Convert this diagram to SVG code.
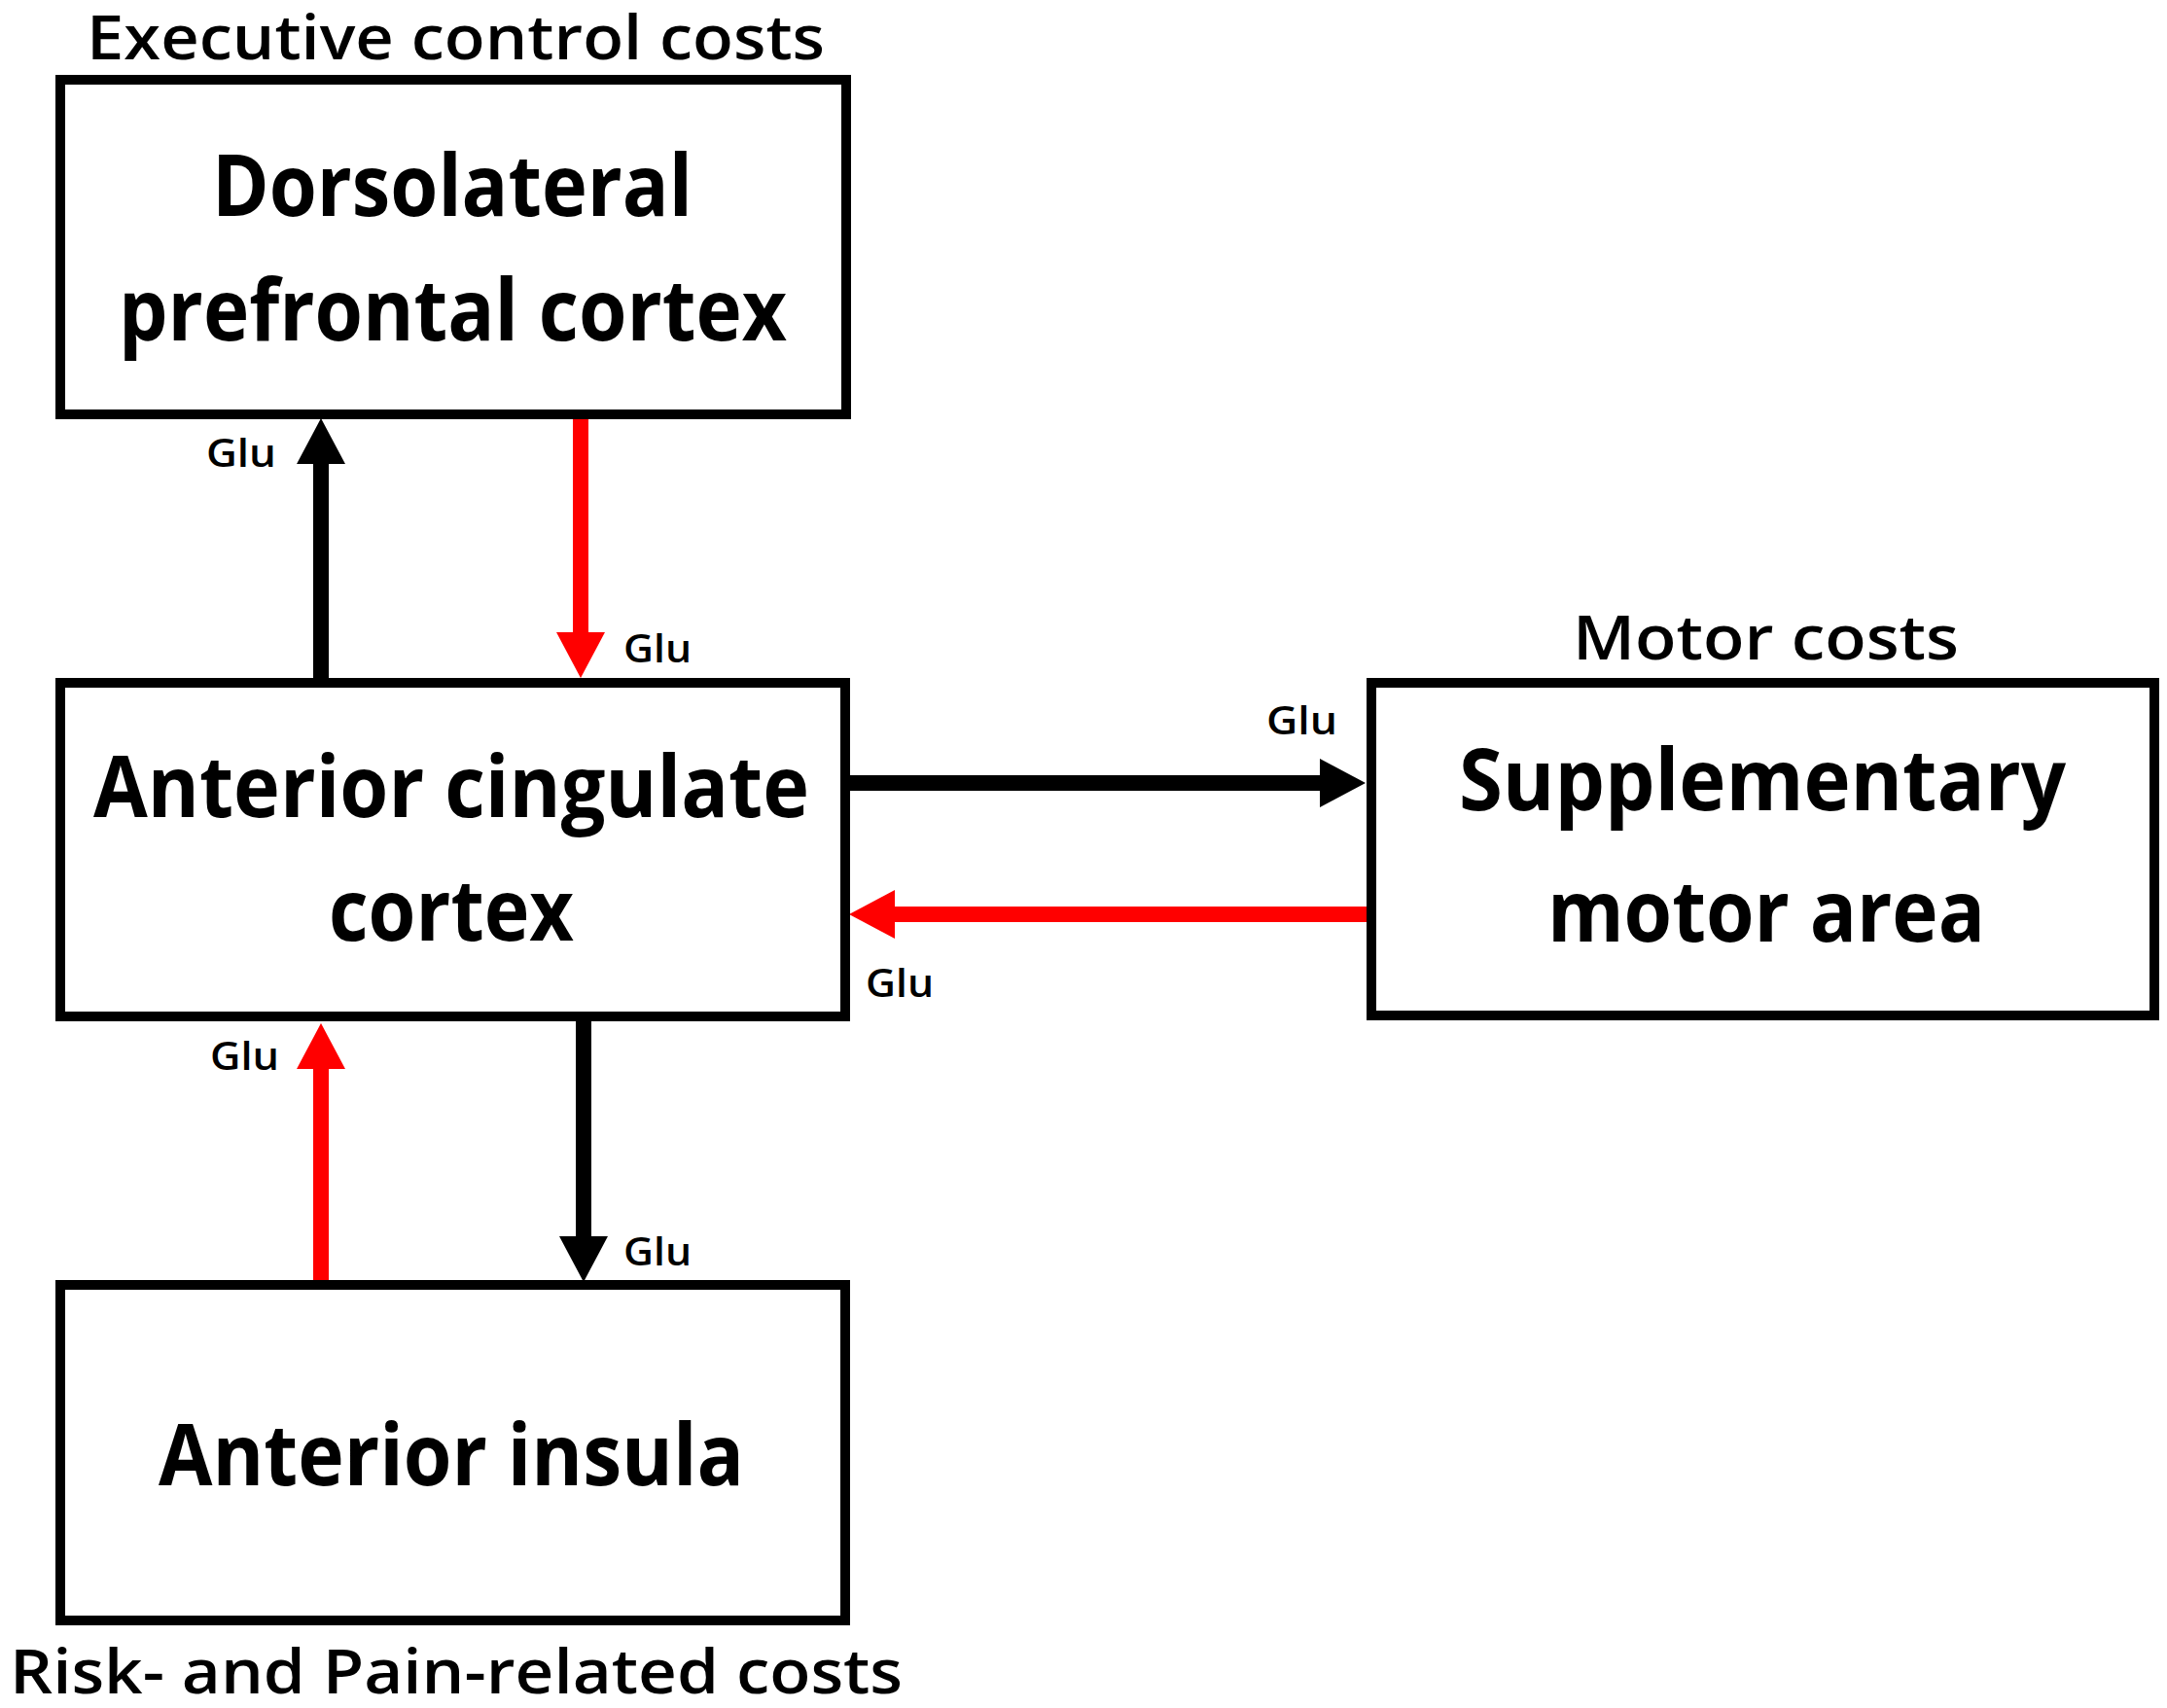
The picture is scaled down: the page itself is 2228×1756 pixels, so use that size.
<svg xmlns="http://www.w3.org/2000/svg" width="2228" height="1756" viewBox="0 0 2228 1756">
<style>
.box{fill:#fff;stroke:#000;stroke-width:10}
.lbl{font-family:"Open Sans","Liberation Sans",sans-serif;font-weight:700;font-size:88px;fill:#000}
.cost{font-family:"Open Sans","Liberation Sans",sans-serif;font-weight:600;font-size:64px;fill:#000}
.glu{font-family:"Open Sans","Liberation Sans",sans-serif;font-weight:600;font-size:39px;fill:#000}
.blk{stroke:#000;stroke-width:16;fill:none}
.red{stroke:#ff0000;stroke-width:16;fill:none}
</style>
<defs>
<marker id="hb" markerUnits="userSpaceOnUse" markerWidth="48" markerHeight="50" refX="0" refY="25" orient="auto" viewBox="0 0 48 50"><path d="M0,0 L47,25 L0,50 Z" fill="#000"/></marker>
<marker id="hr" markerUnits="userSpaceOnUse" markerWidth="48" markerHeight="50" refX="0" refY="25" orient="auto" viewBox="0 0 48 50"><path d="M0,0 L47,25 L0,50 Z" fill="#ff0000"/></marker>
</defs>
<rect width="2228" height="1756" fill="#fff"/>
<g id="connectors">
<line class="blk" x1="330" y1="697" x2="330" y2="477" marker-end="url(#hb)"/>
<line class="red" x1="597" y1="430" x2="597" y2="650" marker-end="url(#hr)"/>
<line class="blk" x1="874" y1="805" x2="1357" y2="805" marker-end="url(#hb)"/>
<line class="red" x1="1406" y1="940" x2="920" y2="940" marker-end="url(#hr)"/>
<line class="red" x1="330" y1="1316" x2="330" y2="1099" marker-end="url(#hr)"/>
<line class="blk" x1="600" y1="1048" x2="600" y2="1271" marker-end="url(#hb)"/>
<text class="glu" x="212" y="480" textLength="72" lengthAdjust="spacingAndGlyphs">Glu</text>
<text class="glu" x="641" y="681" textLength="70" lengthAdjust="spacingAndGlyphs">Glu</text>
<text class="glu" x="1302" y="755" textLength="73" lengthAdjust="spacingAndGlyphs">Glu</text>
<text class="glu" x="890" y="1025" textLength="70" lengthAdjust="spacingAndGlyphs">Glu</text>
<text class="glu" x="216" y="1100" textLength="71" lengthAdjust="spacingAndGlyphs">Glu</text>
<text class="glu" x="641" y="1301" textLength="70" lengthAdjust="spacingAndGlyphs">Glu</text>
</g>
<g id="dlpfc">
<text class="cost" x="89" y="61" textLength="759" lengthAdjust="spacingAndGlyphs">Executive control costs</text>
<rect class="box" x="62" y="82" width="808" height="344"/>
<text class="lbl" x="218" y="222" textLength="494" lengthAdjust="spacingAndGlyphs">Dorsolateral</text>
<text class="lbl" x="122" y="350" textLength="687" lengthAdjust="spacingAndGlyphs">prefrontal cortex</text>
</g>
<g id="acc">
<rect class="box" x="62" y="702" width="807" height="343"/>
<text class="lbl" x="96" y="840" textLength="736" lengthAdjust="spacingAndGlyphs">Anterior cingulate</text>
<text class="lbl" x="338" y="967" textLength="252" lengthAdjust="spacingAndGlyphs">cortex</text>
</g>
<g id="sma">
<text class="cost" x="1617" y="678" textLength="397" lengthAdjust="spacingAndGlyphs">Motor costs</text>
<rect class="box" x="1410" y="702" width="805" height="342"/>
<text class="lbl" x="1500" y="833" textLength="624" lengthAdjust="spacingAndGlyphs">Supplementary</text>
<text class="lbl" x="1591" y="968" textLength="450" lengthAdjust="spacingAndGlyphs">motor area</text>
</g>
<g id="ai">
<rect class="box" x="62" y="1321" width="807" height="345"/>
<text class="lbl" x="163" y="1527" textLength="602" lengthAdjust="spacingAndGlyphs">Anterior insula</text>
<text class="cost" x="10" y="1741" textLength="918" lengthAdjust="spacingAndGlyphs">Risk- and Pain-related costs</text>
</g>
</svg>
